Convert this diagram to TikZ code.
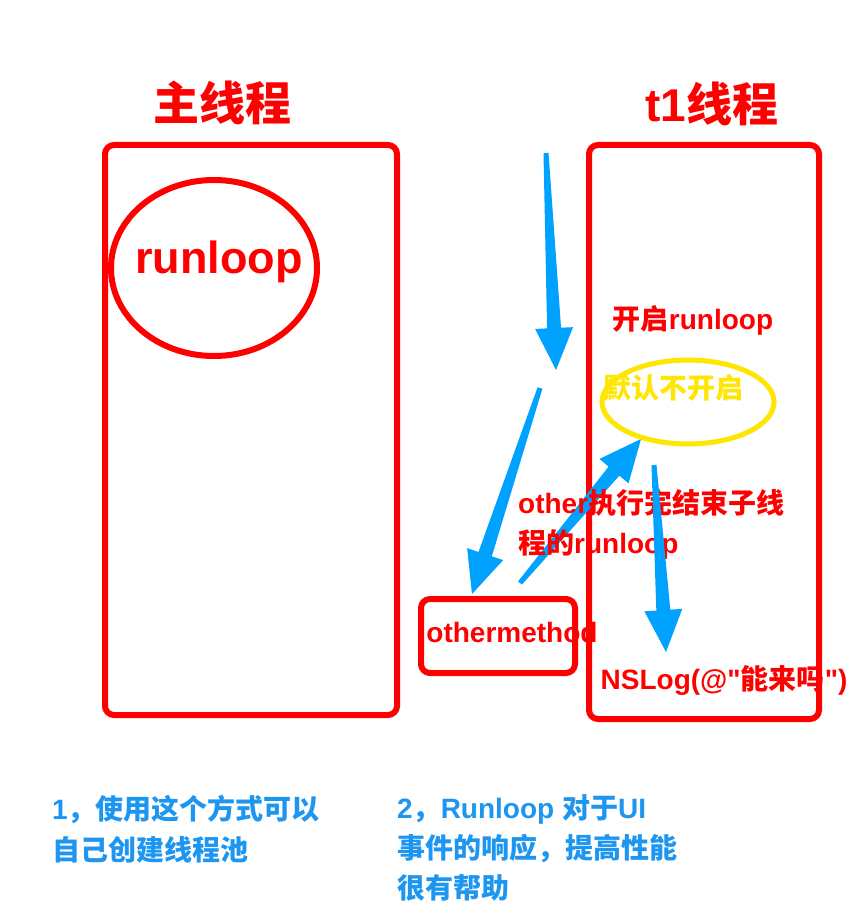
\documentclass[tikz,border=0pt]{standalone}
\usepackage{fontspec}
\setmainfont{Liberation Sans}[Ligatures=TeXOff]
\newfontfamily\cjk{Noto Sans CJK SC}
\usetikzlibrary{shapes.geometric}
\usetikzlibrary{calc}
\definecolor{arrowblue}{RGB}{0,162,255}
\definecolor{noteblue}{RGB}{28,150,240}
\definecolor{ringyellow}{RGB}{255,230,0}
\newcommand\skarrow[2]{%
  \coordinate (hb) at ($(#2)!42pt!(#1)$);
  \fill[arrowblue] ($(#1)!2.5pt!90:(#2)$) -- ($(hb)!7pt!90:(#2)$) -- ($(hb)!19pt!90:(#2)$) -- (#2)
    -- ($(hb)!19pt!-90:(#2)$) -- ($(hb)!7pt!-90:(#2)$) -- ($(#1)!2.5pt!-90:(#2)$) -- cycle;}

\begin{document}
\begin{tikzpicture}[x=1pt,y=-1pt,
  thread/.style={draw=red,line width=6pt,rounded corners=9pt},
  title/.style={text=red,font=\bfseries\fontsize{46}{50}\selectfont},
  redlabel/.style={text=red,font=\bfseries\fontsize{28}{40}\selectfont,inner sep=0pt},
  note/.style={text=noteblue,font=\bfseries\fontsize{28}{41}\selectfont,align=left,anchor=north west,inner sep=0pt}]
\useasboundingbox [fill=white] (0,0) rectangle (854,920);

% threads
\node [title] (maintitle) at (222,103) {\cjk 主线程};
\node [title] (t1title) at (712,104) {t1{\cjk 线程}};
\node [thread,minimum width=292,minimum height=570] (mainbox) at (251,430) {};
\node [thread,minimum width=230,minimum height=574] (t1box) at (704,432) {};

% main thread runloop
\node [ellipse,draw=red,line width=6pt,minimum width=206,minimum height=176] (loopring) at (214,268) {};
\node [text=red,font=\bfseries\fontsize{45}{48}\selectfont] (looptext) at (219,262) {runloop};

% arrows
\coordinate (a1s) at (546,153);
\coordinate (a1e) at (556,370);
\coordinate (a2s) at (540,388);
\coordinate (a2e) at (472,594);
\coordinate (a3s) at (520,583);
\coordinate (a3e) at (641,439);
\coordinate (a4s) at (654,465);
\coordinate (a4e) at (666,652);
\skarrow{a1s}{a1e}
\skarrow{a2s}{a2e}
\skarrow{a3s}{a3e}

% t1 thread
\node [redlabel] (startloop) at (693,320) {{\cjk 开启}runloop};
\node [ellipse,draw=ringyellow,line width=5pt,minimum width=172,minimum height=84] (offring) at (688,402) {};
\node [redlabel,text=ringyellow] (offtext) at (673,388) {\cjk 默认不开启};
\node [redlabel] (nslog) at (724,680) {NSLog(@"{\cjk 能来吗}")};

% othermethod
\node [thread,minimum width=154,minimum height=74] (otherbox) at (498,636) {};
\node [redlabel] (othertext) at (512,632) {othermethod};
\node [redlabel,align=left,anchor=north west] (endnote) at (518,489) {other{\cjk 执行完结束子线}\\{\cjk 程的}runloop};
\skarrow{a4s}{a4e}

% notes
\node [note] (note1) at (52,795) {1{\cjk ，使用这个方式可以}\\{\cjk 自己创建线程池}};
\node [note,font=\bfseries\fontsize{28}{40}\selectfont] (note2) at (397,794) {2{\cjk ，}Runloop {\cjk 对于}UI\\{\cjk 事件的响应，提高性能}\\{\cjk 很有帮助}};
\end{tikzpicture}
\end{document}
